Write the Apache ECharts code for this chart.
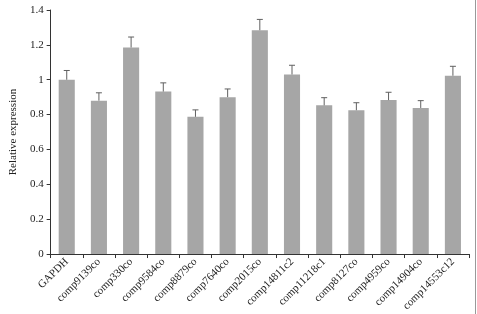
<!DOCTYPE html>
<html><head><meta charset="utf-8">
<script src="https://cdn.jsdelivr.net/npm/echarts@6/dist/echarts.min.js"></script>
<style>html,body{margin:0;padding:0;background:#fff}#c{width:477px;height:314px}</style>
</head><body><div id="c"></div>
<script>
const categories = ['GAPDH','comp9139co','comp330co','comp9584co','comp8879co','comp7640co','comp2015co','comp14811c2','comp11218c1','comp8127co','comp4959co','comp14904co','comp14553c12'];
const values = [1.0, 0.88, 1.185, 0.932, 0.787, 0.90, 1.284, 1.03, 0.853, 0.825, 0.883, 0.838, 1.023];
const errors = [0.053, 0.045, 0.06, 0.05, 0.04, 0.047, 0.062, 0.053, 0.044, 0.043, 0.045, 0.042, 0.054];
const yTicks = [0, 0.2, 0.4, 0.6, 0.8, 1, 1.2, 1.4];

const chart = echarts.init(document.getElementById('c'));
const font = '"Liberation Serif", "Times New Roman", serif';
chart.setOption({
  animation: false,
  backgroundColor: '#fff',
  grid: {left: 35, right: 8, top: 10, bottom: 56},
  xAxis: {
    type: 'category', data: categories,
    axisLine: {lineStyle: {color: '#333', width: 1}},
    axisTick: {show: true, alignWithLabel: false, length: 4, lineStyle: {color: '#333'}},
    axisLabel: {rotate: 45, fontFamily: font, fontSize: 11, color: '#222', margin: 6, interval: 0}
  },
  yAxis: {
    type: 'value', min: yTicks[0], max: yTicks[yTicks.length-1], interval: 0.2,
    name: 'Relative expression', nameLocation: 'middle', nameGap: 28,
    nameTextStyle: {fontFamily: font, fontSize: 11, color: '#222'},
    axisLine: {show: true, lineStyle: {color: '#333'}},
    axisTick: {show: true, length: 4, lineStyle: {color: '#333'}},
    splitLine: {show: false},
    axisLabel: {fontFamily: font, fontSize: 11, color: '#222', margin: 7,
      formatter: v => String(Math.round(v*10)/10)}
  },
  series: [
    {type: 'bar', data: values, barWidth: '50%', itemStyle: {color: '#a6a6a6'}},
    {type: 'custom', data: values.map((v,i)=>[i, v, v+errors[i]]), z: 5,
     renderItem: (params, api) => {
       const p1 = api.coord([api.value(0), api.value(1)]);
       const p2 = api.coord([api.value(0), api.value(2)]);
       const st = {stroke: '#606060', lineWidth: 1};
       return {type: 'group', children: [
         {type: 'line', shape: {x1: p1[0], y1: p1[1], x2: p2[0], y2: p2[1]}, style: st},
         {type: 'line', shape: {x1: p2[0]-3, y1: p2[1], x2: p2[0]+3, y2: p2[1]}, style: st}
       ]};
     }}
  ],
  graphic: [{type: 'line', shape: {x1: 475.5, y1: 0, x2: 475.5, y2: 314}, style: {stroke: '#999', lineWidth: 1}}]
});
</script></body></html>
